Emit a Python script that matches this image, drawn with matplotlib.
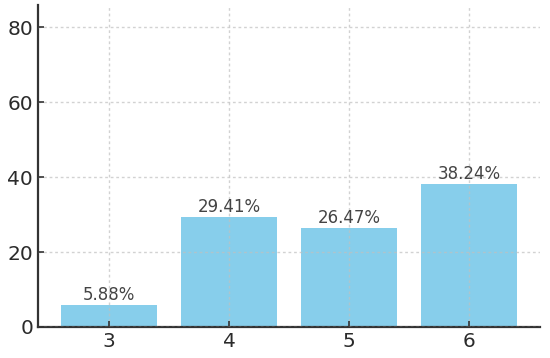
import matplotlib.pyplot as plt
import numpy as np

# Data
categories = ["3", "4", "5", "6"]
percents = [5.88, 29.41, 26.47, 38.24]
yticks = [0, 20, 40, 60, 80]

fig = plt.figure(figsize=(5.5, 3.58), dpi=100)
ax = fig.add_axes([0.069, 0.087, 0.913, 0.899])

x = np.arange(len(categories))
bars = ax.bar(x, percents, width=0.8, color="#87CEEB", zorder=1)

for b, p in zip(bars, percents):
    ax.text(b.get_x() + b.get_width() / 2, b.get_height() + 0.2, f"{p:.2f}%",
            ha="center", va="bottom", fontsize=12, color="#444444")

ax.set_xticks(x)
ax.set_xticklabels(categories)
ax.set_yticks(yticks)
ax.set_ylim(0, 86)

ax.set_axisbelow(False)
ax.grid(True, color="#c0c0c0", linestyle=(0, (2, 2)), linewidth=1.0, alpha=0.7, zorder=2)

for s in ["top", "right"]:
    ax.spines[s].set_visible(False)
for s in ["left", "bottom"]:
    ax.spines[s].set_color("#333333")
    ax.spines[s].set_linewidth(1.6)

ax.tick_params(direction="in", length=4, width=1.2, colors="#333333",
               labelsize=14.5, labelcolor="#2b2b2b")

fig.savefig("out.png", dpi=100)
